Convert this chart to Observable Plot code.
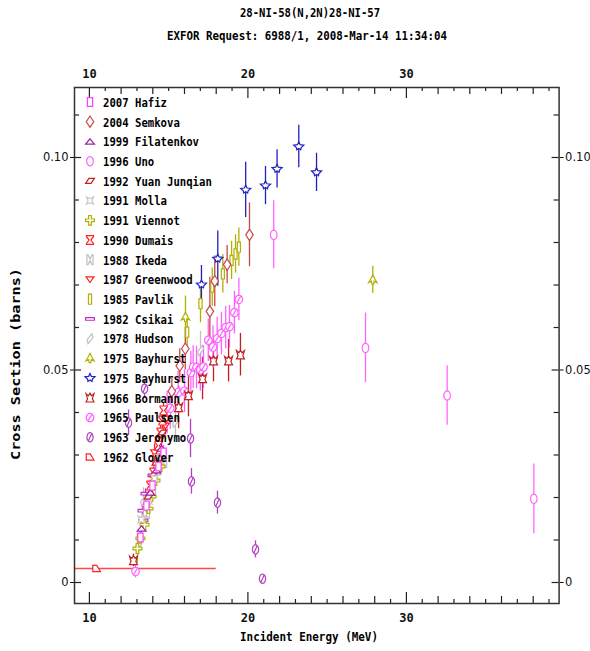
<!DOCTYPE html>
<html><head><meta charset="utf-8">
<script src="https://cdn.jsdelivr.net/npm/d3@7"></script>
<script src="https://cdn.jsdelivr.net/npm/@observablehq/plot@0.6"></script>
<style>body{margin:0;background:#fff} svg{display:block}</style>
</head><body><div id="chart"></div>
<script>
const titleMain = "28-NI-58(N,2N)28-NI-57";
const titleSub = "EXFOR Request: 6988/1, 2008-Mar-14 11:34:04";
const xTitle = "Incident Energy (MeV)";
const yTitle = "Cross Section (barns)";
const xTicks = [10, 20, 30];
const yTicks = [0, 0.05, 0.1];
const yTickLabels = ["0", "0.05", "0.10"];

// each row: [incident energy (MeV), cross section (b), error (b)]
const hafiz = [[13.22,0.0106,0.0012],[13.60,0.0181,0.0012],[13.98,0.0228,0.0014],[14.36,0.0273,0.0015],[14.68,0.0306,0.0016]];
const semkova = [[15.20,0.0450,0.0030],[15.70,0.0510,0.0040],[16.05,0.0550,0.0050],[17.60,0.0638,0.0080],[17.91,0.0709,0.0060],[18.69,0.0748,0.0045],[20.10,0.0818,0.0075]];
const filatenkov = [[13.29,0.0127,0.0010],[13.85,0.0212,0.0012],[14.23,0.0264,0.0014],[14.55,0.0315,0.0015]];
const uno = [[21.63,0.0818,0.0080],[27.42,0.0552,0.0082],[32.57,0.0440,0.0070],[38.04,0.0197,0.0082]];
const yuan = [[13.73,0.0202,0.0012],[14.23,0.0282,0.0015],[14.61,0.0353,0.0017],[14.86,0.0386,0.0018]];
const molla = [[13.29,0.0148,0.0011],[13.73,0.0193,0.0012],[14.11,0.0245,0.0014],[14.49,0.0292,0.0015]];
const viennot = [[13.03,0.0080,0.0035],[13.22,0.0104,0.0010],[13.48,0.0136,0.0011],[13.73,0.0174,0.0012],[13.92,0.0202,0.0013],[14.17,0.0240,0.0014],[14.49,0.0273,0.0015]];
const dumais = [[13.85,0.0228,0.0012],[14.04,0.0259,0.0013],[14.23,0.0292,0.0014],[14.36,0.0322,0.0015],[14.49,0.0353,0.0016],[14.61,0.0381,0.0017],[14.68,0.0405,0.0018]];
const ikeda = [[13.60,0.0162,0.0011],[13.98,0.0216,0.0012],[14.30,0.0264,0.0014],[14.68,0.0282,0.0015]];
const greenwood = [[14.11,0.0306,0.0020],[14.42,0.0334,0.0020],[14.80,0.0369,0.0022]];
const pavlik = [[16.17,0.0589,0.0040],[17.01,0.0656,0.0045],[17.75,0.0695,0.0045],[18.42,0.0726,0.0045],[18.97,0.0758,0.0045],[19.22,0.0773,0.0045],[19.43,0.0789,0.0045]];
const csikai = [[13.41,0.0146,0.0010],[13.35,0.0169,0.0010],[13.54,0.0209,0.0011],[13.98,0.0252,0.0012]];
const hudson = [[13.10,0.0087,0.0020],[13.41,0.0193,0.0030],[15.43,0.0377,0.0040],[17.01,0.0546,0.0045]];
const bayhurstOlive = [[16.06,0.0624,0.0050],[27.88,0.0712,0.0032]];
const bayhurstBlue = [[17.07,0.0701,0.0045],[18.10,0.0762,0.0065],[19.86,0.0924,0.0065],[21.11,0.0934,0.0045],[21.84,0.0973,0.0045],[23.21,0.1026,0.0050],[24.33,0.0965,0.0045]];
const bormann = [[12.78,0.0052,0.0015],[15.63,0.0412,0.0050],[16.25,0.0440,0.0050],[17.14,0.0480,0.0050],[17.83,0.0522,0.0050],[18.78,0.0522,0.0050],[19.53,0.0536,0.0050]];
const paulsen = [[12.91,0.0026,0.0015],[14.90,0.0400,0.0050],[15.10,0.0410,0.0050],[15.60,0.0447,0.0050],[16.00,0.0450,0.0050],[16.40,0.0494,0.0050],[16.55,0.0507,0.0050],[16.76,0.0506,0.0050],[17.00,0.0500,0.0050],[17.20,0.0507,0.0050],[17.50,0.0570,0.0050],[17.80,0.0554,0.0050],[18.06,0.0574,0.0050],[18.33,0.0586,0.0050],[18.60,0.0600,0.0050],[18.84,0.0602,0.0050],[19.15,0.0635,0.0050],[19.43,0.0666,0.0050]];
const jeronymo = [[12.47,0.0376,0.0030],[13.48,0.0456,0.0020],[16.38,0.0339,0.0045],[16.44,0.0238,0.0030],[18.08,0.0188,0.0027],[20.48,0.0078,0.0020],[20.92,0.0009,0.0005]];
// [E, sigma, dsigma, dE]
const glover = [[10.45,0.0033,0.0006,7.55]];

const legendLabels = ["2007 Hafiz","2004 Semkova","1999 Filatenkov","1996 Uno","1992 Yuan Junqian","1991 Molla","1991 Viennot","1990 Dumais","1988 Ikeda","1987 Greenwood","1985 Pavlik","1982 Csikai","1978 Hudson","1975 Bayhurst","1975 Bayhurst","1966 Bormann","1965 Paulsen","1963 Jeronymo","1962 Glover"];
const seriesData = [hafiz,semkova,filatenkov,uno,yuan,molla,viennot,dumais,ikeda,greenwood,pavlik,csikai,hudson,bayhurstOlive,bayhurstBlue,bormann,paulsen,jeronymo,glover];
const seriesColors = ["#ff40ff","#c84848","#a020a0","#ff66ff","#c02020","#c8c8c8","#b0b000","#ff2020","#c0c0c0","#ff2020","#b0b000","#c030c0","#c0c0c0","#b0b000","#2020c0","#c02020","#ff60ff","#b040c0","#ff2020"];

// ---- marker shapes ----
function poly(pts){
  return {draw(ctx, size){
    const r = Math.sqrt(size/Math.PI);
    pts.forEach(([x,y],i)=> i ? ctx.lineTo(x*r,y*r) : ctx.moveTo(x*r,y*r));
    ctx.closePath();
  }};
}
function ellipse(rx, ry, slash){
  return {draw(ctx, size){
    const r = Math.sqrt(size/Math.PI), n = 24;
    for(let i=0;i<n;i++){
      const a = 2*Math.PI*i/n, x = rx*r*Math.cos(a), y = ry*r*Math.sin(a);
      i ? ctx.lineTo(x,y) : ctx.moveTo(x,y);
    }
    ctx.closePath();
    if(slash){ ctx.moveTo(-0.5*rx*r, 0.75*ry*r); ctx.lineTo(0.5*rx*r, -0.75*ry*r); }
  }};
}
function star(n, ro, ri, rot){
  const pts=[];
  for(let i=0;i<2*n;i++){ const a = rot + Math.PI*i/n; const rr = i%2?ri:ro; pts.push([rr*Math.sin(a), -rr*Math.cos(a)]); }
  return poly(pts);
}
const shapes = [
  poly([[-0.6,-1],[0.6,-1],[0.6,1],[-0.6,1]]),                    // Hafiz square
  poly([[0,-1.3],[0.85,0],[0,1.3],[-0.85,0]]),                     // Semkova diamond
  poly([[0,-0.6],[1,0.6],[-1,0.6]]),                               // Filatenkov triangle
  ellipse(0.75,1.05,false),                                        // Uno
  poly([[-1,0.55],[0.25,0.55],[1,-0.55],[-0.25,-0.55]]),           // Yuan parallelogram
  star(4,1.15,0.45,Math.PI/4),                                     // Molla
  poly([[-0.3,-1.1],[0.3,-1.1],[0.3,-0.3],[1,-0.3],[1,0.3],[0.3,0.3],[0.3,1.1],[-0.3,1.1],[-0.3,0.3],[-1,0.3],[-1,-0.3],[-0.3,-0.3]]), // Viennot cross
  poly([[-0.8,-1],[0.8,-1],[0.8,-0.75],[0.2,0],[0.8,0.75],[0.8,1],[-0.8,1],[-0.8,0.75],[-0.2,0],[-0.8,-0.75]]), // Dumais hourglass
  poly([[-0.7,-1.1],[-0.45,-1.1],[0,-0.2],[0.45,-1.1],[0.7,-1.1],[0.7,1.1],[0.45,1.1],[0,0.2],[-0.45,1.1],[-0.7,1.1]]), // Ikeda bowtie
  poly([[-0.9,-0.6],[0.9,-0.6],[0,0.7]]),                          // Greenwood triangle down
  poly([[-0.35,-1.15],[0.35,-1.15],[0.35,1.15],[-0.35,1.15]]),     // Pavlik tall rect
  poly([[-1,-0.3],[1,-0.3],[1,0.3],[-1,0.3]]),                     // Csikai flat rect
  poly([[-0.65,0.25],[0.45,-1.15],[0.65,-0.25],[-0.45,1.15]]),     // Hudson
  poly([[0,-1.15],[0.45,-0.25],[0.95,0.6],[0.3,0.3],[0.2,0.95],[-0.2,0.95],[-0.3,0.3],[-0.95,0.6],[-0.45,-0.25]]), // Bayhurst olive
  poly([[0,-1.05],[0.3,-0.4],[1.15,-0.3],[0.55,0.25],[0.45,0.75],[0,0.45],[-0.45,0.75],[-0.55,0.25],[-1.15,-0.3],[-0.3,-0.4]]), // Bayhurst blue
  poly([[-0.9,-0.95],[-0.35,-0.45],[0,-1.05],[0.35,-0.45],[0.9,-0.95],[0.55,0.25],[0.9,0.95],[-0.9,0.95],[-0.55,0.25]]), // Bormann crown
  ellipse(0.85,0.95,true),                                         // Paulsen
  ellipse(0.7,1.05,true),                                          // Jeronymo
  poly([[-0.85,-0.7],[0.05,-0.7],[0.9,0.7],[-0.85,0.7]])           // Glover
];

// ---- frame geometry ----
const W = 590, H = 651, mL = 74, mR = 31.4, mT = 87, mB = 48;
const fw = W - mL - mR, fh = H - mT - mB;
const xDomain = [9.06, 39.634];
const yDomain = [-0.004941, 0.116471];
const xMinorOdd = d3.range(11, 40, 2);
const xMinorEven = d3.range(10, 40, 2).filter(v => v % 10 !== 0);
const yMinor = d3.range(1, 12).map(v => v/100).filter(v => Math.abs(v-0.05) > 1e-9 && Math.abs(v-0.1) > 1e-9);

const marks = [];
seriesData.forEach((data, i) => {
  if (data === glover) {
    marks.push(Plot.ruleY(data, {y: d=>d[1], x1: d=>Math.max(xDomain[0], d[0]-d[3]), x2: d=>d[0]+d[3], stroke: "#ff4848", strokeWidth: 1.6}));
  }
  marks.push(Plot.ruleX(data, {x: d=>d[0], y1: d=>d[1]-d[2], y2: d=>d[1]+d[2], stroke: seriesColors[i], strokeWidth: 1.3}));
});
for (let i = seriesData.length - 1; i >= 0; i--) {
  marks.push(Plot.dot(seriesData[i], {x: d=>d[0], y: d=>d[1], symbol: shapes[i], r: 4.4, stroke: seriesColors[i], fill: "white", strokeWidth: 1.2}));
}
// inward ticks
const tk = (vals, len, side) => {
  if (side === "bottom") return Plot.ruleX(vals, {x: d=>d, insetTop: fh - len, stroke: "#222", strokeWidth: 1.2});
  if (side === "top") return Plot.ruleX(vals, {x: d=>d, insetBottom: fh - len, stroke: "#222", strokeWidth: 1.2});
  if (side === "left") return Plot.ruleY(vals, {y: d=>d, insetRight: fw - len, stroke: "#222", strokeWidth: 1.2});
  return Plot.ruleY(vals, {y: d=>d, insetLeft: fw - len, stroke: "#222", strokeWidth: 1.2});
};
marks.push(tk(xMinorOdd, 4, "bottom"), tk(xMinorEven, 7, "bottom"), tk(xTicks, 11, "bottom"));
marks.push(tk(xMinorOdd, 4, "top"), tk(xMinorEven, 7, "top"), tk(xTicks, 11, "top"));
marks.push(tk(yMinor, 5, "left"), tk(yTicks, 7, "left"), tk(yMinor, 5, "right"), tk(yTicks, 7, "right"));
marks.push(Plot.frame({stroke: "#333", strokeWidth: 1.5}));

const chart = Plot.plot({
  width: W, height: H,
  marginLeft: mL, marginRight: mR, marginTop: mT, marginBottom: mB,
  style: {fontFamily: "DejaVu Sans Mono", fontSize: "12px", fontWeight: "bold", background: "white", color: "#111"},
  x: {domain: xDomain, ticks: xTicks, tickFormat: d => String(d), axis: "both", tickSize: 0, tickPadding: 10, label: null},
  y: {domain: yDomain, ticks: yTicks, tickFormat: d => yTickLabels[yTicks.indexOf(d)], axis: "both", tickSize: 4, tickPadding: 2, label: null},
  marks
});
document.getElementById("chart").appendChild(chart);

// ---- titles, axis titles, legend ----
const svg = d3.select(chart);
// y tick labels: regular weight
svg.selectAll('g[aria-label^="y-axis"] text')
  .attr("font-weight", "normal").attr("font-size", 11.5).style("font-weight", "normal").style("font-size", "11.5px")
  .attr("font-family", "DejaVu Sans").style("font-family", "DejaVu Sans");

const txt = (x, y, s, w, size) => svg.append("text")
  .attr("x", x).attr("y", y).attr("text-anchor", "middle")
  .attr("font-family", "DejaVu Sans Mono").attr("font-weight", "bold").attr("font-size", size)
  .attr("textLength", w).attr("lengthAdjust", "spacingAndGlyphs").attr("fill", "#000").text(s);
txt(310, 17, titleMain, 140, 13);
txt(307, 40, titleSub, 280, 13);
txt(309, 641, xTitle, 138, 13);
txt(0, 0, yTitle, 192, 13).attr("transform", "translate(20,364) rotate(-90)");

const lg = svg.append("g");
legendLabels.forEach((lab, i) => {
  const cy = 102 + i * 19.72;
  const p = d3.path();
  shapes[i].draw(p, Math.PI * 4.4 * 4.4);
  lg.append("path").attr("d", p.toString()).attr("transform", `translate(90,${cy})`)
    .attr("fill", "white").attr("stroke", seriesColors[i]).attr("stroke-width", 1.2);
  lg.append("text").attr("x", 103).attr("y", cy + 4.8).attr("text-anchor", "start")
    .attr("font-family", "DejaVu Sans Mono").attr("font-weight", "bold").attr("font-size", 13)
    .attr("textLength", lab.length * 6.4).attr("lengthAdjust", "spacingAndGlyphs").attr("fill", "#000").text(lab);
});
</script></body></html>
